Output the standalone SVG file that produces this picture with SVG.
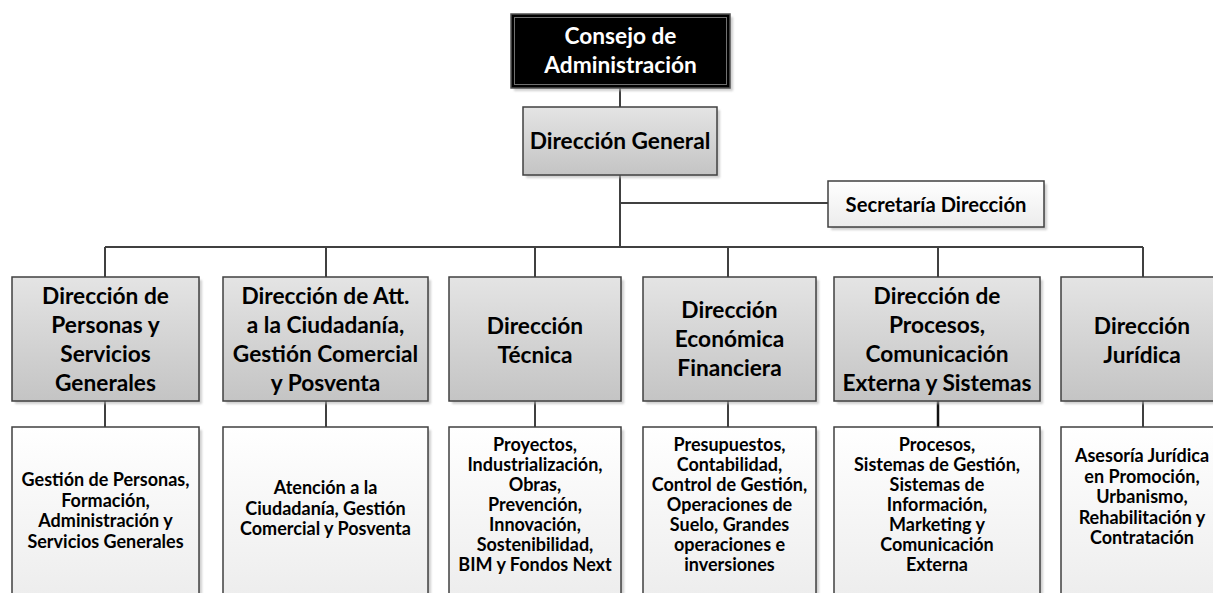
<svg xmlns="http://www.w3.org/2000/svg" width="1213" height="593" viewBox="0 0 1213 593">
<defs>
<linearGradient id="gGray" x1="0" y1="0" x2="0" y2="1">
<stop offset="0" stop-color="#e4e4e4"/>
<stop offset="1" stop-color="#c4c4c4"/>
</linearGradient>
<linearGradient id="gWhite" x1="0" y1="0" x2="0" y2="1">
<stop offset="0" stop-color="#ffffff"/>
<stop offset="1" stop-color="#ececec"/>
</linearGradient>
<filter id="sh" x="-10%" y="-10%" width="130%" height="130%">
<feGaussianBlur stdDeviation="1.2"/>
</filter>
<style>
.shadow{fill:#b0b0b0;opacity:0.6;filter:url(#sh)}
.g{fill:url(#gGray);stroke:#404040;stroke-width:1.5}
.w{fill:url(#gWhite);stroke:#404040;stroke-width:1.5}
.t1{font-family:Lato,"Liberation Sans",sans-serif;font-weight:bold;font-size:22.7px;fill:#000;text-anchor:middle}
.t1w{font-family:Lato,"Liberation Sans",sans-serif;font-weight:bold;font-size:22.7px;fill:#fff;text-anchor:middle}
.t2{font-family:Lato,"Liberation Sans",sans-serif;font-weight:bold;font-size:20.2px;fill:#000;text-anchor:middle}
.t3{font-family:Lato,"Liberation Sans",sans-serif;font-weight:bold;font-size:18px;fill:#000;text-anchor:middle}
.c{fill:none;stroke:#404040;stroke-width:2}
</style>
</defs>
<rect width="1213" height="593" fill="#ffffff"/>
<g id="connectors">
<path class="c" d="M620,88V107"/>
<path class="c" d="M620,175V247"/>
<path class="c" d="M620,203H828"/>
<path class="c" d="M105,247H1143"/>
<path class="c" d="M105,247V277M326,247V277M535,247V277M728,247V277M938,247V277M1143,247V277"/>
<path class="c" d="M105,401V427M326,401V427M535,401V427M728,401V427M1143,401V427"/>
<path d="M938,401V427" fill="none" stroke="#111" stroke-width="2.5"/>
</g>
<g id="consejo">
<rect x="514" y="17" width="219" height="74" class="shadow"/>
<rect x="511" y="14" width="219" height="74" fill="#000" stroke="#505050" stroke-width="1.5"/>
<rect x="514.5" y="17.5" width="212" height="67" fill="none" stroke="#707070" stroke-width="1"/>
<text class="t1w"><tspan x="620.5" y="43.5">Consejo de</tspan><tspan x="620.5" y="72.5">Administración</tspan></text>
</g>
<g id="direccion-general">
<rect x="526" y="110" width="194" height="68" class="shadow"/>
<rect x="523" y="107" width="194" height="68" class="g"/>
<text class="t1" x="620" y="149">Dirección General</text>
</g>
<g id="secretaria">
<rect x="831" y="184" width="216" height="46" class="shadow"/>
<rect x="828" y="181" width="216" height="46" class="w"/>
<text class="t2" x="936" y="211.5">Secretaría Dirección</text>
</g>
<g id="d1">
<rect x="15" y="280" width="187" height="124" class="shadow"/>
<rect x="12" y="277" width="187" height="124" class="g"/>
<text class="t1"><tspan x="105.5" y="304">Dirección de</tspan><tspan x="105.5" y="333">Personas y</tspan><tspan x="105.5" y="362">Servicios</tspan><tspan x="105.5" y="391">Generales</tspan></text>
</g>
<g id="d2">
<rect x="226" y="280" width="205" height="124" class="shadow"/>
<rect x="223" y="277" width="205" height="124" class="g"/>
<text class="t1"><tspan x="325.5" y="304">Dirección de Att.</tspan><tspan x="325.5" y="333">a la Ciudadanía,</tspan><tspan x="325.5" y="362">Gestión Comercial</tspan><tspan x="325.5" y="391">y Posventa</tspan></text>
</g>
<g id="d3">
<rect x="452" y="280" width="172" height="124" class="shadow"/>
<rect x="449" y="277" width="172" height="124" class="g"/>
<text class="t1"><tspan x="535" y="334">Dirección</tspan><tspan x="535" y="363">Técnica</tspan></text>
</g>
<g id="d4">
<rect x="646" y="280" width="173" height="124" class="shadow"/>
<rect x="643" y="277" width="173" height="124" class="g"/>
<text class="t1"><tspan x="729.5" y="318">Dirección</tspan><tspan x="729.5" y="347">Económica</tspan><tspan x="729.5" y="376">Financiera</tspan></text>
</g>
<g id="d5">
<rect x="837" y="280" width="206" height="124" class="shadow"/>
<rect x="834" y="277" width="206" height="124" class="g"/>
<text class="t1"><tspan x="937" y="304">Dirección de</tspan><tspan x="937" y="333">Procesos,</tspan><tspan x="937" y="362">Comunicación</tspan><tspan x="937" y="391">Externa y Sistemas</tspan></text>
</g>
<g id="d6">
<rect x="1064" y="280" width="164" height="124" class="shadow"/>
<rect x="1061" y="277" width="164" height="124" class="g"/>
<text class="t1"><tspan x="1142" y="334">Dirección</tspan><tspan x="1142" y="363">Jurídica</tspan></text>
</g>
<g id="a1">
<rect x="15" y="430" width="187" height="180" class="shadow"/>
<rect x="12" y="427" width="187" height="180" class="w"/>
<text class="t3"><tspan x="105.5" y="486">Gestión de Personas,</tspan><tspan x="105.5" y="506.5">Formación,</tspan><tspan x="105.5" y="527">Administración y</tspan><tspan x="105.5" y="547.5">Servicios Generales</tspan></text>
</g>
<g id="a2">
<rect x="226" y="430" width="205" height="180" class="shadow"/>
<rect x="223" y="427" width="205" height="180" class="w"/>
<text class="t3"><tspan x="325.5" y="494">Atención a la</tspan><tspan x="325.5" y="514.5">Ciudadanía, Gestión</tspan><tspan x="325.5" y="535">Comercial y Posventa</tspan></text>
</g>
<g id="a3">
<rect x="452" y="430" width="172" height="180" class="shadow"/>
<rect x="449" y="427" width="172" height="180" class="w"/>
<text class="t3"><tspan x="535" y="451">Proyectos,</tspan><tspan x="535" y="471">Industrialización,</tspan><tspan x="535" y="491">Obras,</tspan><tspan x="535" y="511">Prevención,</tspan><tspan x="535" y="531">Innovación,</tspan><tspan x="535" y="551">Sostenibilidad,</tspan><tspan x="535" y="571">BIM y Fondos Next</tspan></text>
</g>
<g id="a4">
<rect x="646" y="430" width="173" height="180" class="shadow"/>
<rect x="643" y="427" width="173" height="180" class="w"/>
<text class="t3"><tspan x="729.5" y="451">Presupuestos,</tspan><tspan x="729.5" y="471">Contabilidad,</tspan><tspan x="729.5" y="491">Control de Gestión,</tspan><tspan x="729.5" y="511">Operaciones de</tspan><tspan x="729.5" y="531">Suelo, Grandes</tspan><tspan x="729.5" y="551">operaciones e</tspan><tspan x="729.5" y="571">inversiones</tspan></text>
</g>
<g id="a5">
<rect x="837" y="430" width="206" height="180" class="shadow"/>
<rect x="834" y="427" width="206" height="180" class="w"/>
<text class="t3"><tspan x="937" y="451">Procesos,</tspan><tspan x="937" y="471">Sistemas de Gestión,</tspan><tspan x="937" y="491">Sistemas de</tspan><tspan x="937" y="511">Información,</tspan><tspan x="937" y="531">Marketing y</tspan><tspan x="937" y="551">Comunicación</tspan><tspan x="937" y="571">Externa</tspan></text>
</g>
<g id="a6">
<rect x="1064" y="430" width="164" height="180" class="shadow"/>
<rect x="1061" y="427" width="164" height="180" class="w"/>
<text class="t3"><tspan x="1142" y="462">Asesoría Jurídica</tspan><tspan x="1142" y="482.5">en Promoción,</tspan><tspan x="1142" y="503">Urbanismo,</tspan><tspan x="1142" y="523.5">Rehabilitación y</tspan><tspan x="1142" y="544">Contratación</tspan></text>
</g>
</svg>
